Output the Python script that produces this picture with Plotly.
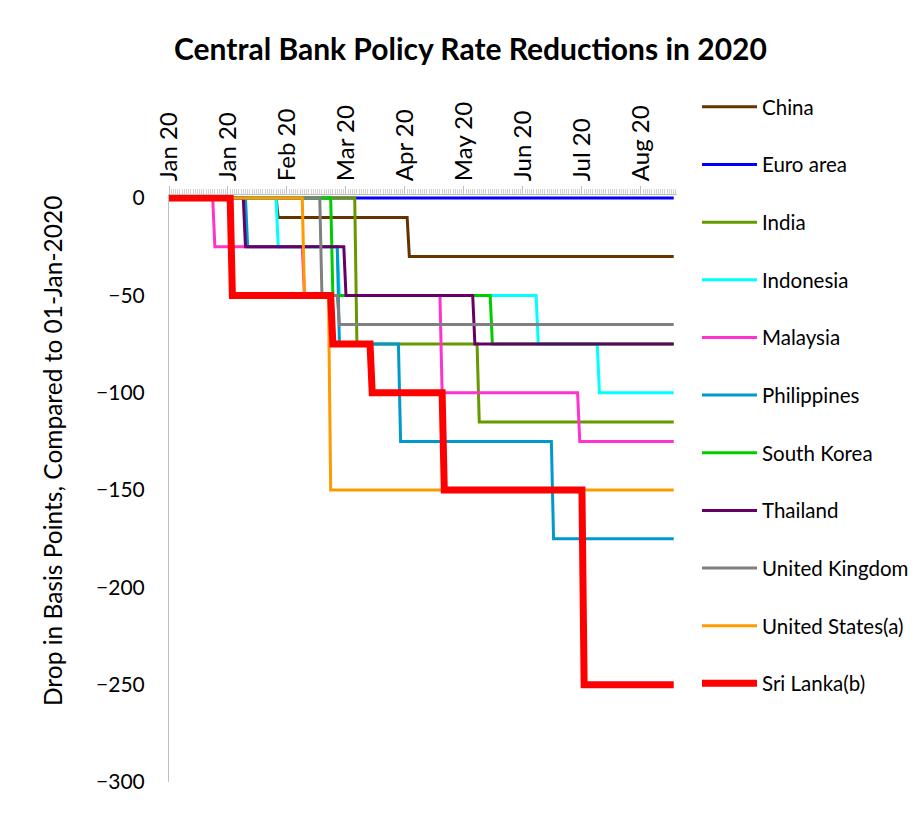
import pandas as pd
import plotly.graph_objects as go

# ---------------- data ----------------
start_date = "2020-01-01"
end_date = "2020-08-19"

countries = ["China", "Euro area", "India", "Indonesia", "Malaysia", "Philippines",
             "South Korea", "Thailand", "United Kingdom", "United States(a)", "Sri Lanka(b)"]

# dates on which each cumulative reduction took effect, and the cumulative drop (bp)
china_dates = ["2020-02-20", "2020-04-20"]
china_vals = [-10, -30]
euro_dates = []
euro_vals = []
india_dates = ["2020-03-27", "2020-05-22"]
india_vals = [-75, -115]
indonesia_dates = ["2020-02-20", "2020-03-19", "2020-06-18", "2020-07-16"]
indonesia_vals = [-25, -50, -75, -100]
malaysia_dates = ["2020-01-22", "2020-03-03", "2020-05-05", "2020-07-07"]
malaysia_vals = [-25, -50, -100, -125]
philippines_dates = ["2020-02-06", "2020-03-19", "2020-04-16", "2020-06-25"]
philippines_vals = [-25, -75, -125, -175]
korea_dates = ["2020-03-16", "2020-05-28"]
korea_vals = [-50, -75]
thailand_dates = ["2020-02-05", "2020-03-22", "2020-05-20"]
thailand_vals = [-25, -50, -75]
uk_dates = ["2020-03-11", "2020-03-19"]
uk_vals = [-50, -65]
us_dates = ["2020-03-03", "2020-03-15"]
us_vals = [-50, -150]
srilanka_dates = ["2020-01-30", "2020-03-16", "2020-04-03", "2020-05-06", "2020-07-09"]
srilanka_vals = [-50, -75, -100, -150, -250]

series_dates = [china_dates, euro_dates, india_dates, indonesia_dates, malaysia_dates,
                philippines_dates, korea_dates, thailand_dates, uk_dates, us_dates, srilanka_dates]
series_vals = [china_vals, euro_vals, india_vals, indonesia_vals, malaysia_vals,
               philippines_vals, korea_vals, thailand_vals, uk_vals, us_vals, srilanka_vals]

tick_dates = ["2020-01-01", "2020-01-28", "2020-02-24", "2020-03-22", "2020-04-18",
              "2020-05-15", "2020-06-11", "2020-07-08", "2020-08-04"]
tick_labels = ["Jan 20", "Jan 20", "Feb 20", "Mar 20", "Apr 20", "May 20",
               "Jun 20", "Jul 20", "Aug 20"]
y_ticks = [0, -50, -100, -150, -200, -250, -300]

# ---------------- style ----------------
colors = ["#663300", "#0000FF", "#669900", "#00FFFF", "#FF33CC", "#0099CC",
          "#00CC00", "#660066", "#808080", "#FF9900", "#FF0000"]
widths = [3, 3, 3, 3, 3, 3, 3, 3, 3, 3, 7]
FONT = "Lato"


def build(dates, vals):
    """Daily series: value held until the day before a change, new value from the change day."""
    xs = [pd.Timestamp(start_date)]
    ys = [0]
    prev = 0
    for d, v in zip(dates, vals):
        t = pd.Timestamp(d)
        xs += [t - pd.Timedelta(days=1), t]
        ys += [prev, v]
        prev = v
    xs.append(pd.Timestamp(end_date))
    ys.append(prev)
    return xs, ys


fig = go.Figure()
for name, d, v, c, w in zip(countries, series_dates, series_vals, colors, widths):
    xs, ys = build(d, v)
    fig.add_trace(go.Scatter(x=xs, y=ys, mode="lines", name=name, legendgroup=name,
                             line=dict(color=c, width=w)))

# the page places the figure 8px from the top-left corner
OFF = 8
W, H = 919 - OFF, 821 - OFF
L = 169 - OFF
T = 195 - OFF
R = W - (677 - OFF)
B = H - (782 - OFF)
PW, PH = W - L - R, H - T - B


def px_x(page_x):
    return (page_x - OFF - L) / PW


def px_y(page_y):
    return 1 - (page_y - OFF - T) / PH


fig.update_layout(
    width=W, height=H,
    margin=dict(l=L, r=R, t=T, b=B, autoexpand=False),
    paper_bgcolor="white", plot_bgcolor="white",
    font=dict(family=FONT, color="#000000", size=20.5),
    showlegend=True,
    legend=dict(x=px_x(697), y=px_y(87), xanchor="left", yanchor="top",
                font=dict(family=FONT, size=20.5, color="#000000"),
                tracegroupgap=28, itemwidth=55, bgcolor="rgba(0,0,0,0)",
                traceorder="grouped", maxheight=800),
    xaxis=dict(
        type="date", side="top", automargin=False,
        range=["2020-01-01", "2020-08-20 12:00"],
        tickmode="array", tickvals=tick_dates, ticktext=tick_labels,
        tickangle=-90, tickfont=dict(family=FONT, size=24, color="#000000"),
        showline=True, linecolor="#BFBFBF", linewidth=1,
        ticks="outside", ticklen=8, tickcolor="#BFBFBF",
        minor=dict(dtick=86400000, tick0="2020-01-01", ticks="outside",
                   ticklen=5, tickcolor="#D0D0D0", showgrid=False),
        showgrid=False, zeroline=False,
    ),
    yaxis=dict(
        range=[-300, 1.6], automargin=False,
        tickmode="array", tickvals=y_ticks,
        tickfont=dict(family=FONT, size=21, color="#000000"),
        showline=True, linecolor="#BFBFBF", linewidth=1,
        ticks="", ticklabelstandoff=19,
        showgrid=False, zeroline=False,
    ),
)

fig.add_annotation(
    text="<b>Central Bank Policy Rate Reductions in 2020</b>",
    xref="paper", yref="paper",
    x=px_x(470), y=px_y(48),
    xanchor="center", yanchor="middle", showarrow=False,
    font=dict(family=FONT, size=30, color="#000000"),
)
fig.add_annotation(
    text="Drop in Basis Points, Compared to 01-Jan-2020",
    xref="paper", yref="paper",
    x=px_x(52), y=px_y(451),
    xanchor="center", yanchor="middle", textangle=-90, showarrow=False,
    font=dict(family=FONT, size=24.5, color="#000000"),
)

fig.write_html("out.html")
